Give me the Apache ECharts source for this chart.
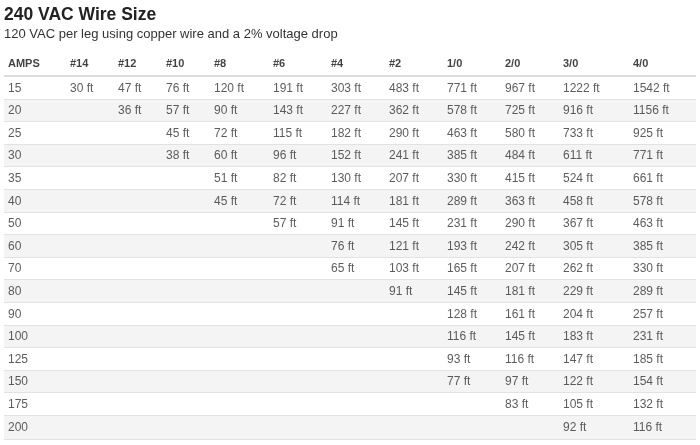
<!DOCTYPE html>
<html><head><meta charset="utf-8">
<script src="https://cdn.jsdelivr.net/npm/echarts@6/dist/echarts.min.js"></script>
<style>html,body{margin:0;padding:0;background:#fff}#c{width:700px;height:445px}</style>
</head><body><div id="c"></div>
<script>
// ---- data ----
const amps = [15,20,25,30,35,40,50,60,70,80,90,100,125,150,175,200];
const headers = ['AMPS','#14','#12','#10','#8','#6','#4','#2','1/0','2/0','3/0','4/0'];
const g14  = [30];
const g12  = [47,36];
const g10  = [76,57,45,38];
const g8   = [120,90,72,60,51,45];
const g6   = [191,143,115,96,82,72,57];
const g4   = [303,227,182,152,130,114,91,76,65];
const g2   = [483,362,290,241,207,181,145,121,103,91];
const g1_0 = [771,578,463,385,330,289,231,193,165,145,128,116,93,77];
const g2_0 = [967,725,580,484,415,363,290,242,207,181,161,145,116,97,83];
const g3_0 = [1222,916,733,611,524,458,367,305,262,229,204,183,147,122,105,92];
const g4_0 = [1542,1156,925,771,661,578,463,385,330,289,257,231,185,154,132,116];
const gaugeCols = [g14,g12,g10,g8,g6,g4,g2,g1_0,g2_0,g3_0,g4_0];
const unit = ' ft';

// ---- layout (not data) ----
const colLeft = [8,70,118,166,214,273,331,389,447,505,563,633];
const tableLeft = 4, tableRight = 696;
const headerRowY = -1.06;
const FONT = '"Liberation Sans", Arial, sans-serif';

const chart = echarts.init(document.getElementById('c'), null, {renderer:'canvas'});

const rowData = amps.map((a,i)=>[0,i]);
const ampData = amps.map((a,i)=>[colLeft[0], i, String(a)]);
const cellData = [];
gaugeCols.forEach((col,j)=>{
  col.forEach((v,i)=>{ if(v!=null) cellData.push([colLeft[j+1], i, v+unit]); });
});
const headData = headers.map((h,k)=>[colLeft[k], headerRowY, h]);

const textLabel = (size, weight, color) => ({
  show:true, position:'right', distance:0,
  formatter:p=>p.value[2], fontSize:size, fontWeight:weight, color:color, fontFamily:FONT
});

chart.setOption({
  animation:false,
  backgroundColor:'#fff',
  title:{
    left:4, top:6, itemGap:4, padding:0,
    text:'240 VAC Wire Size',
    textStyle:{fontSize:17.5, fontWeight:'bold', color:'#222', fontFamily:FONT},
    subtext:'120 VAC per leg using copper wire and a 2% voltage drop',
    subtextStyle:{fontSize:13, color:'#333', fontFamily:FONT}
  },
  grid:{left:0, right:0, top:43.1, bottom:6.4},
  xAxis:{type:'value', min:0, max:700, show:false},
  yAxis:{type:'value', inverse:true, min:-2, max:15.5, show:false},
  series:[
    {
      type:'custom', silent:true, clip:false,
      data: rowData,
      encode:{x:0, y:1},
      renderItem:(params, api)=>{
        const i = api.value(1);
        const x0 = api.coord([0,0])[0] + tableLeft;
        const x1 = api.coord([0,0])[0] + tableRight;
        const yTop = Math.round(api.coord([0, i-0.5])[1]);
        const yBot = Math.round(api.coord([0, i+0.5])[1]);
        const children = [{
          type:'rect',
          shape:{x:x0, y:yTop, width:x1-x0, height:yBot-yTop},
          style:{fill: i%2 ? '#f4f4f4' : '#ffffff'}
        }];
        if(i===0){
          children.push({type:'rect', shape:{x:x0, y:yTop-2, width:x1-x0, height:2}, style:{fill:'#dcdcdc'}});
        } else {
          children.push({type:'rect', shape:{x:x0, y:yTop-1, width:x1-x0, height:1}, style:{fill:'#e2e2e2'}});
        }
        if(i===amps.length-1){
          children.push({type:'rect', shape:{x:x0, y:yBot, width:x1-x0, height:1}, style:{fill:'#e2e2e2'}});
        }
        return {type:'group', children};
      },
      z:1
    },
    {type:'scatter', symbolSize:0, silent:true, clip:false, data:headData, label:textLabel(11,'bold','#111'), z:3},
    {type:'scatter', symbolSize:0, silent:true, clip:false, data:ampData, label:textLabel(12,'normal','#333'), z:3},
    {type:'scatter', symbolSize:0, silent:true, clip:false, data:cellData, label:textLabel(12,'normal','#333'), z:3}
  ]
});
</script></body></html>
